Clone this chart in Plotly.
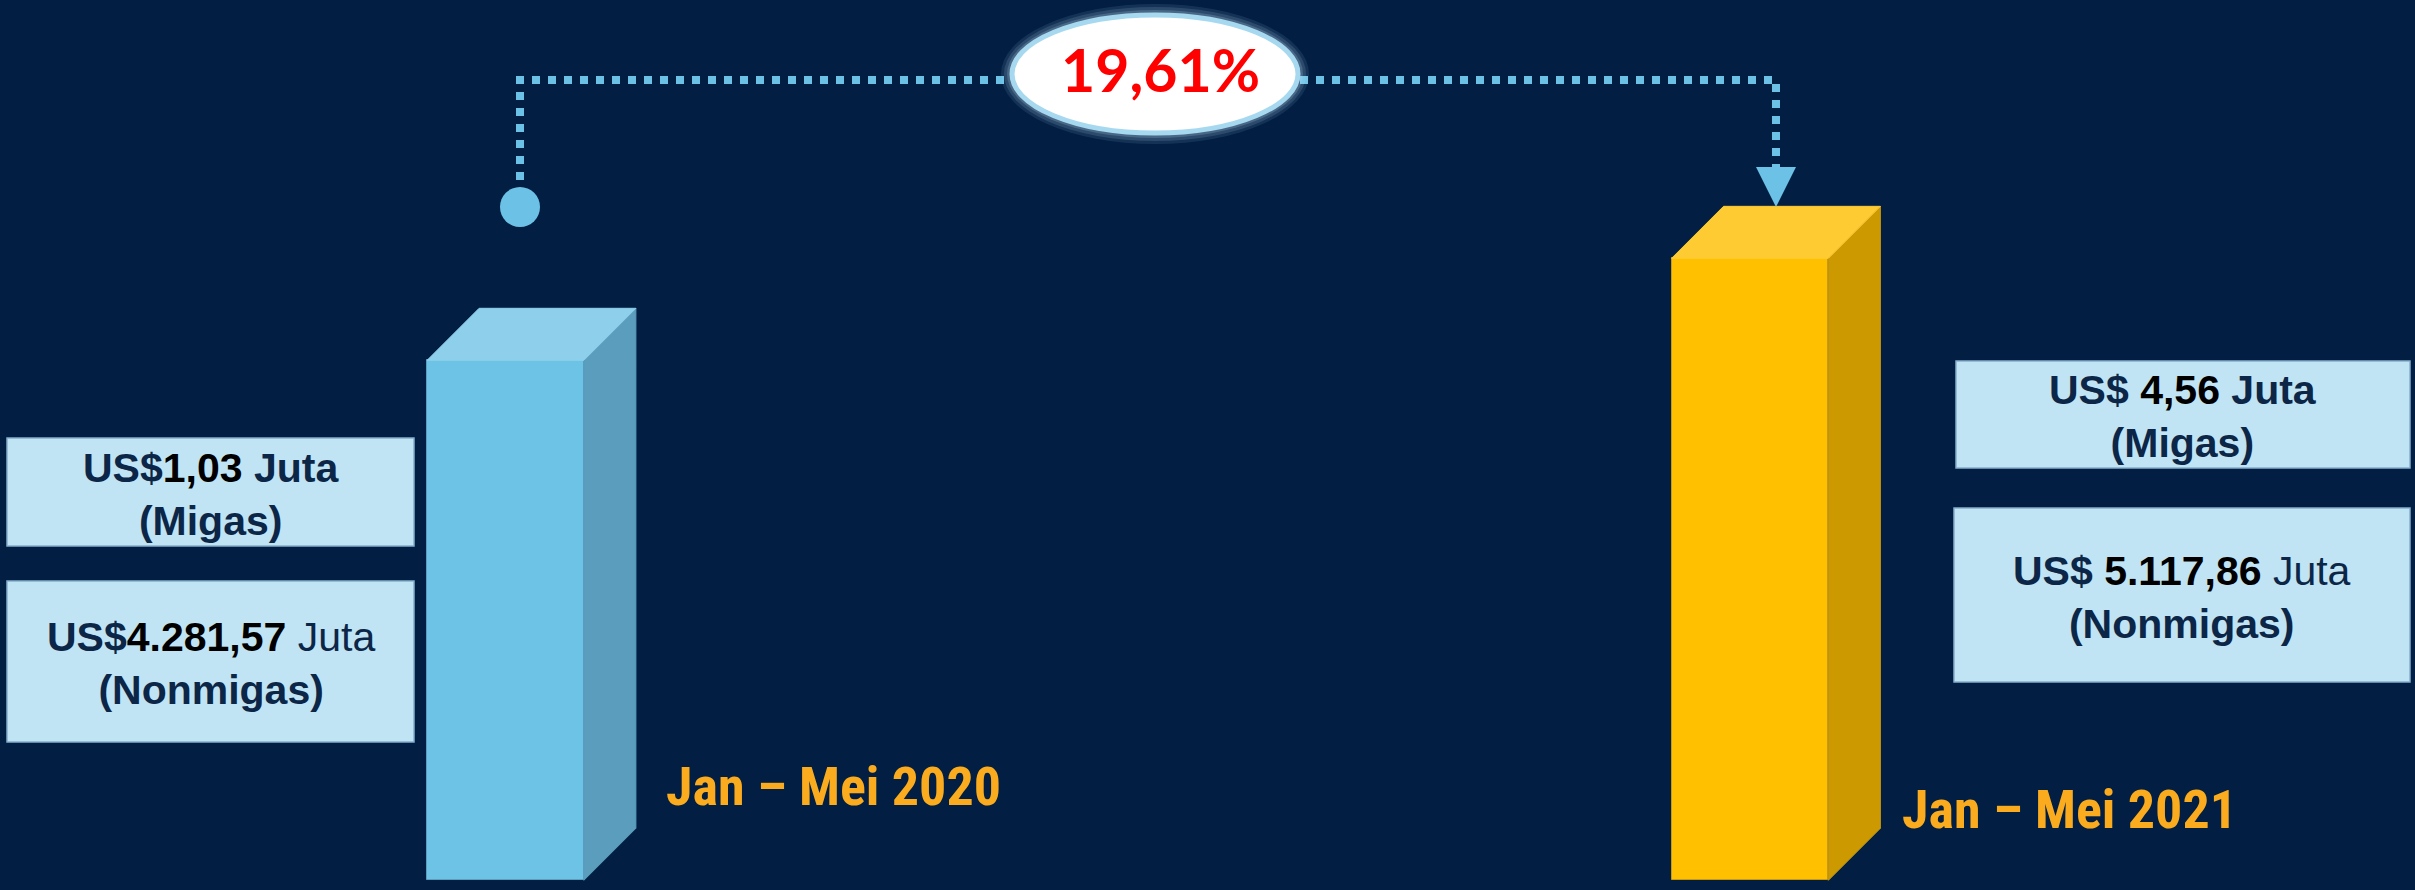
import plotly.graph_objects as go

# ---------------- data ----------------
periods = ["Jan – Mei 2020", "Jan – Mei 2021"]
migas = [1.03, 4.56]                 # US$ juta
nonmigas = [4281.57, 5117.86]        # US$ juta
migas_txt = ["1,03", "4,56"]
nonmigas_txt = ["4.281,57", "5.117,86"]
growth_txt = "19,61%"

totals = [m + n for m, n in zip(migas, nonmigas)]

# ---------------- style ----------------
W, H = 2415, 890
BG = "#021F43"
front_col = ["#6DC3E6", "#FFC000"]
top_col = ["#8ED0EC", "#FFCB33"]
side_col = ["#5A9DBC", "#CC9A00"]
edge_col = ["#5A9DBC", "#C99A10"]
NAVY = "#0C2648"
ORANGE = "#FBAC1E"
CONN = "#6CC2E6"

XR = [-0.4062, 1.5344]
YR = [-80, 7250]
BAR_W = 0.126
DEPTH_PX = 52
dx = DEPTH_PX * (XR[1] - XR[0]) / W
dy = DEPTH_PX * (YR[1] - YR[0]) / H


def px(x):
    return x / W


def py(y):
    return 1 - y / H


fig = go.Figure()

# front faces
fig.add_trace(go.Bar(
    x=[0, 1], y=totals, width=BAR_W, base=0,
    marker=dict(color=front_col, line=dict(color=edge_col, width=1)),
    hoverinfo="skip", showlegend=False,
))

# side and top faces
for i, v in enumerate(totals):
    xr_ = i + BAR_W / 2
    xl_ = i - BAR_W / 2
    fig.add_trace(go.Scatter(
        x=[xr_, xr_ + dx, xr_ + dx, xr_, xr_],
        y=[0, dy, v + dy, v, 0],
        fill="toself", fillcolor=side_col[i], mode="lines",
        line=dict(color=edge_col[i], width=1), hoverinfo="skip", showlegend=False,
    ))
    fig.add_trace(go.Scatter(
        x=[xl_, xl_ + dx, xr_ + dx, xr_, xl_],
        y=[v, v + dy, v + dy, v, v],
        fill="toself", fillcolor=top_col[i], mode="lines",
        line=dict(color=top_col[i], width=1), hoverinfo="skip", showlegend=False,
    ))

shapes = []
annotations = []

# ---- connector ----
path = "M {:.5f},{:.5f} L {:.5f},{:.5f} L {:.5f},{:.5f} L {:.5f},{:.5f}".format(
    px(520), py(196), px(520), py(80), px(1776), py(80), px(1776), py(170))
shapes.append(dict(type="path", xref="paper", yref="paper", path=path,
                   line=dict(color=CONN, width=8, dash="8px,8px")))
shapes.append(dict(type="circle", xref="paper", yref="paper",
                   x0=px(500), x1=px(540), y0=py(227), y1=py(187),
                   fillcolor=CONN, line=dict(width=0)))
tri = "M {:.5f},{:.5f} L {:.5f},{:.5f} L {:.5f},{:.5f} Z".format(
    px(1756), py(167), px(1796), py(167), px(1776), py(207))
shapes.append(dict(type="path", xref="paper", yref="paper", path=tri,
                   fillcolor=CONN, line=dict(width=0)))

# ---- badge ----
for g, op in [(11, 0.10), (8, 0.14), (5, 0.2), (2, 0.3)]:
    shapes.append(dict(type="circle", xref="paper", yref="paper",
                       x0=px(1012 - g), x1=px(1298 + g), y0=py(133 + g), y1=py(15 - g),
                       fillcolor="rgba(190,225,245,{})".format(op), line=dict(width=0)))
shapes.append(dict(type="circle", xref="paper", yref="paper",
                   x0=px(1012), x1=px(1298), y0=py(133), y1=py(15),
                   fillcolor="#FFFFFF", line=dict(color="#A6D9F0", width=5)))
annotations.append(dict(xref="paper", yref="paper", x=px(1160), y=py(70),
                        xanchor="center", yanchor="middle", showarrow=False,
                        text="<b>" + growth_txt + "</b>",
                        font=dict(family="Lato, sans-serif", size=59, color="#FF0000")))

# ---- value boxes ----
boxes = [
    (7, 414, 438, 546, "<b>US$<span style='color:#000000'>{}</span> Juta</b><br><b>(Migas)</b>".format(migas_txt[0])),
    (7, 414, 581, 742, "<b>US$<span style='color:#000000'>{}</span></b> Juta<br><b>(Nonmigas)</b>".format(nonmigas_txt[0])),
    (1956, 2410, 361, 468, "<b>US$ <span style='color:#000000'>{}</span> Juta</b><br><b>(Migas)</b>".format(migas_txt[1])),
    (1954, 2410, 508, 682, "<b>US$ <span style='color:#000000'>{}</span></b> Juta<br><b>(Nonmigas)</b>".format(nonmigas_txt[1])),
]
for x0, x1, y0, y1, txt in boxes:
    shapes.append(dict(type="rect", xref="paper", yref="paper",
                       x0=px(x0), x1=px(x1), y0=py(y1), y1=py(y0),
                       fillcolor="#C0E4F3", line=dict(color="#86AECB", width=1.5)))
    annotations.append(dict(xref="paper", yref="paper", x=px((x0 + x1) / 2), y=py((y0 + y1) / 2 + 2),
                            xanchor="center", yanchor="middle", showarrow=False, text=txt,
                            font=dict(family="Liberation Sans, Arial, sans-serif", size=41, color=NAVY)))

# ---- period labels ----
label_pos = [(833, 786), (2069, 809)]
for (lx, ly), name in zip(label_pos, periods):
    annotations.append(dict(xref="paper", yref="paper", x=px(lx), y=py(ly),
                            xanchor="center", yanchor="middle", showarrow=False,
                            text="<b>" + name + "</b>",
                            font=dict(family="Liberation Sans Narrow, Arial Narrow, Roboto Condensed, sans-serif",
                                      size=54, color=ORANGE)))

fig.update_layout(
    width=W, height=H,
    margin=dict(l=0, r=0, t=0, b=0, pad=0),
    paper_bgcolor=BG, plot_bgcolor=BG,
    xaxis=dict(range=XR, visible=False, fixedrange=True),
    yaxis=dict(range=YR, visible=False, fixedrange=True),
    shapes=shapes, annotations=annotations,
    showlegend=False, bargap=0,
)

fig.write_html(
    "out.html",
    config={"displayModeBar": False},
    post_script=(
        "document.body.style.margin='0';document.body.style.padding='0';"
        "document.body.style.overflow='hidden';"
        "document.documentElement.style.background='" + BG + "';"
        "document.body.style.background='" + BG + "';"
    ),
)
